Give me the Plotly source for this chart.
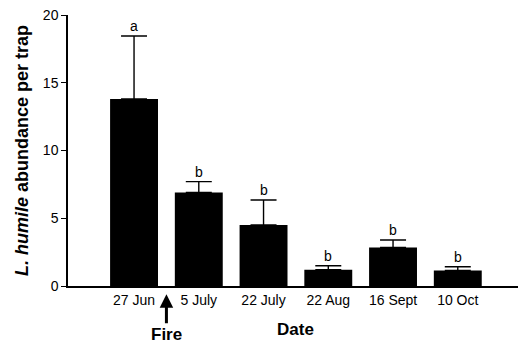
import plotly.graph_objects as go

dates = ["27 Jun", "5 July", "22 July", "22 Aug", "16 Sept", "10 Oct"]
means = [13.8, 6.9, 4.5, 1.2, 2.85, 1.15]
errors = [4.65, 0.8, 1.85, 0.3, 0.55, 0.27]
letters = ["a", "b", "b", "b", "b", "b"]
y_ticks = [0, 5, 10, 15, 20]

FONT = "Arial, Liberation Sans, sans-serif"
xs = list(range(len(dates)))

fig = go.Figure()
fig.add_trace(go.Bar(
    x=xs, y=means, width=0.74,
    marker=dict(color="black", line=dict(color="black", width=0)),
    error_y=dict(type="data", symmetric=False, array=errors, arrayminus=[0]*len(errors),
                 color="black", thickness=1.4, width=13),
    showlegend=False,
))

for i, (m, e, l) in enumerate(zip(means, errors, letters)):
    fig.add_annotation(x=i, y=m + e, text=l, showarrow=False, yanchor="bottom",
                       yshift=0, font=dict(family=FONT, size=14, color="black"))

# Fire arrow
fig.add_annotation(x=0.5, xref="x", y=-0.03, yref="paper", text="<b>Fire</b>",
                   showarrow=True, ax=0, ay=40, arrowhead=2, arrowsize=0.9, arrowwidth=3,
                   arrowcolor="black", font=dict(family=FONT, size=17, color="black"))
# Date label
fig.add_annotation(x=2.5, xref="x", y=-0.162, yref="paper", text="<b>Date</b>",
                   showarrow=False, yanchor="middle",
                   font=dict(family=FONT, size=17, color="black"))

fig.update_layout(
    width=518, height=343,
    margin=dict(l=68, r=0, t=15, b=57, autoexpand=False),
    plot_bgcolor="white", paper_bgcolor="white",
    font=dict(family=FONT, size=14, color="black"),
    xaxis=dict(range=[-1.02, 5.93], tickmode="array", tickvals=xs, ticktext=dates,
               showline=True, linecolor="black", linewidth=1.5, ticks="",
               showgrid=False, zeroline=False, tickfont=dict(size=14), automargin=False),
    yaxis=dict(range=[0, 20], tickvals=y_ticks, showline=True, linecolor="black",
               linewidth=1.5, ticks="outside", ticklen=5, tickwidth=1.2, tickcolor="black",
               showgrid=False, zeroline=False, tickfont=dict(size=14), automargin=False,
               title=dict(text="<b><i>L. humile</i> abundance per trap</b>",
                          font=dict(size=18), standoff=10)),
)

fig.write_html("out.html", config={"displayModeBar": False},
               post_script="document.body.style.margin='0';")
